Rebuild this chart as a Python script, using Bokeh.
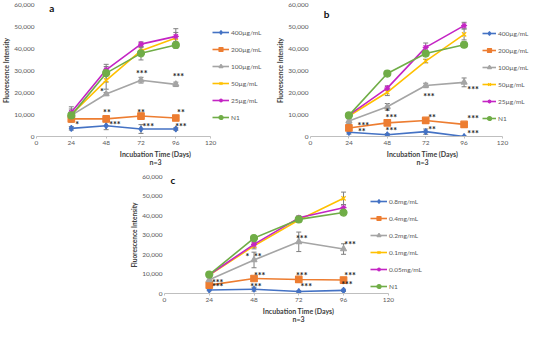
from bokeh.plotting import figure
from bokeh.models import (ColumnDataSource, Whisker, TeeHead, FixedTicker, NumeralTickFormatter,
                          Legend, LegendItem, Label, Range1d)
from bokeh.layouts import column, row
from bokeh.core.properties import value
from bokeh.embed import file_html
from bokeh.resources import INLINE

# ---------------- data ----------------
days = [24, 48, 72, 96]

labels_ab = ["400\u00b5g/mL", "200\u00b5g/mL", "100\u00b5g/mL", "50\u00b5g/mL", "25\u00b5g/mL", "N1"]
labels_c = ["0.8mg/mL", "0.4mg/mL", "0.2mg/mL", "0.1mg/mL", "0.05mg/mL", "N1"]

a_400 = [3700, 4900, 3400, 3400]
a_200 = [8000, 8000, 9300, 8400]
a_100 = [9600, 19300, 25600, 23700]
a_50 = [10000, 25500, 39000, 44800]
a_25 = [11000, 30300, 42000, 45500]
a_n1 = [9600, 28800, 37800, 41600]
a_err = [[800, 1800, 2000, 600], [500, 600, 800, 700], [800, 700, 1300, 1000],
         [3500, 4000, 1500, 2500], [1500, 1500, 1000, 3500], [1500, 4000, 3000, 1500]]

b_400 = [1900, 800, 2200, 0]
b_200 = [3900, 6200, 7300, 5500]
b_100 = [7000, 13500, 23200, 24600]
b_50 = [9300, 20100, 34300, 46400]
b_25 = [9700, 22000, 40500, 50400]
b_n1 = [9600, 28600, 37700, 41700]
b_err = [[800, 500, 1200, 300], [800, 1200, 1000, 800], [1000, 1500, 1000, 2000],
         [1000, 1500, 800, 2500], [1000, 1000, 2000, 1500], [800, 600, 800, 1200]]

c_08 = [1800, 2200, 1000, 1600]
c_04 = [4300, 7700, 7200, 6900]
c_02 = [7000, 17200, 26500, 22800]
c_01 = [9400, 24400, 37700, 48800]
c_005 = [9600, 25200, 38800, 44000]
c_n1 = [9700, 28400, 38000, 41500]
c_err = [[400, 1000, 400, 600], [1000, 800, 1200, 800], [1000, 4000, 5000, 2700],
         [1000, 1500, 1000, 3200], [1000, 1500, 1000, 1500], [800, 600, 800, 1000]]

a_star_x = [28, 54, 77, 99.5, 48.5, 72, 99.5, 45, 72.5, 97.8]
a_star_y = [5300, 5300, 4700, 4500, 10800, 10800, 10800, 20300, 28600, 27400]
a_star_t = ["*", "***", "***", "***", "**", "**", "**", "*", "***", "***"]

b_star_x = [32, 33, 48, 50.5, 50.5, 74, 76, 76, 101.6, 101.6, 101.6]
b_star_y = [2200, 5000, 11500, 8600, 2600, 18100, 8600, 3400, 21300, 8300, 1500]
b_star_t = ["**", "***", "*", "***", "***", "***", "**", "**", "***", "***", "***"]

c_star_x = [28.5, 28.5, 44.5, 50, 51, 49, 73.6, 73.6, 76, 99.5, 99.5, 97.8]
c_star_y = [5600, 3500, 19000, 19000, 9000, 3800, 28400, 9000, 3400, 25200, 9000, 4600]
c_star_t = ["***", "***", "*", "**", "***", "***", "***", "***", "***", "***", "***", "***"]

x_ticks = [0, 24, 48, 72, 96, 120]
y_ticks = [0, 10000, 20000, 30000, 40000, 50000, 60000]

# ---------------- style ----------------
colors = ["#4472C4", "#ED7D31", "#A5A5A5", "#FFC000", "#C425C4", "#70AD47"]
markers = ["diamond", "square", "triangle", "x", "asterisk", "circle"]
msizes = [6, 6.5, 6, 6, 6, 7]
FONT = "Lato"
TXT = "#595959"


def panel(series, errs, labels, sx, sy, st, tag, w, h, bl, br, bt, bb, x_end,
          legend_loc, leg_spacing, glyph_w, tag_xy):
    p = figure(width=w, height=h, output_backend="svg", toolbar_location=None,
               x_range=Range1d(0, x_end), y_range=Range1d(0, 60000),
               min_border_left=bl, min_border_right=br, min_border_top=bt, min_border_bottom=bb)
    p.outline_line_color = None
    p.grid.visible = False
    p.background_fill_color = "white"
    p.border_fill_color = "white"

    p.xaxis.ticker = FixedTicker(ticks=x_ticks)
    p.xaxis.bounds = (0, 120)
    p.yaxis.ticker = FixedTicker(ticks=y_ticks)
    p.yaxis.formatter = NumeralTickFormatter(format="0,0")
    for ax in (p.xaxis, p.yaxis):
        ax.major_label_text_font = FONT
        ax.major_label_text_font_size = "6.5px"
        ax.major_label_text_color = TXT
        ax.axis_label_text_font = FONT
        ax.axis_label_text_font_style = "bold"
        ax.axis_label_text_color = "#404040"
        ax.minor_tick_line_color = None
    p.xaxis.axis_line_color = "#BFBFBF"
    p.xaxis.major_tick_line_color = "#BFBFBF"
    p.xaxis.major_tick_in = 0
    p.xaxis.major_tick_out = 2
    p.xaxis.major_label_standoff = 2
    p.xaxis.axis_label = "Incubation Time (Days)\nn=3"
    p.xaxis.axis_label_text_font_size = "7px"
    p.xaxis.axis_label_text_align = "center"
    p.xaxis.axis_label_text_line_height = 1.0
    p.xaxis.axis_label_standoff = 2
    p.yaxis.axis_line_color = None
    p.yaxis.major_tick_line_color = None
    p.yaxis.major_tick_out = 0
    p.yaxis.major_label_standoff = 2
    p.yaxis.axis_label = "Fluorescence Intensity"
    p.yaxis.axis_label_text_font_size = "6.5px"
    p.yaxis.axis_label_standoff = 1

    items = []
    for i, ys in enumerate(series):
        src = ColumnDataSource(dict(x=days, y=ys,
                                    lo=[v - e for v, e in zip(ys, errs[i])],
                                    hi=[v + e for v, e in zip(ys, errs[i])]))
        wk = Whisker(source=src, base="x", upper="hi", lower="lo", line_color="#7F7F7F",
                     line_width=1,
                     upper_head=TeeHead(size=5, line_color="#7F7F7F", line_width=1),
                     lower_head=TeeHead(size=5, line_color="#7F7F7F", line_width=1))
        p.add_layout(wk)
        ln = p.line("x", "y", source=src, line_color=colors[i], line_width=1.6)
        mk = p.scatter("x", "y", source=src, marker=markers[i], size=msizes[i],
                       fill_color=colors[i], line_color=colors[i], line_width=1.2)
        items.append(LegendItem(label=labels[i], renderers=[ln, mk]))

    ssrc = ColumnDataSource(dict(x=sx, y=sy, t=st))
    p.text("x", "y", text="t", source=ssrc, text_font=value(FONT), text_font_size="9px",
           text_font_style="bold", text_color="#222222", text_align="center",
           text_baseline="middle")

    lg = Legend(items=items, location=legend_loc, border_line_color=None,
                background_fill_alpha=0, label_text_font=FONT, label_text_font_size="6.5px",
                label_text_color=TXT, glyph_width=glyph_w, glyph_height=10, label_height=10,
                label_standoff=2, spacing=leg_spacing, padding=0, margin=0)
    p.add_layout(lg)

    p.add_layout(Label(x=tag_xy[0], y=tag_xy[1], text=tag, text_font=FONT,
                       text_font_size="10px", text_font_style="bold", text_color="#111111",
                       text_align="center", text_baseline="middle"))
    return p


pa = panel([a_400, a_200, a_100, a_50, a_25, a_n1], a_err, labels_ab,
           a_star_x, a_star_y, a_star_t, "a", 274, 168, 31, 0, 4, 20, 164,
           (176, 14), 7, 17, (10.5, 58500))
pb = panel([b_400, b_200, b_100, b_50, b_25, b_n1], b_err, labels_ab,
           b_star_x, b_star_y, b_star_t, "b", 260, 168, 34, 0, 4, 20, 140,
           (172, 13), 7, 14, (10, 55500))
pc = panel([c_08, c_04, c_02, c_01, c_005, c_n1], c_err, labels_c,
           c_star_x, c_star_y, c_star_t, "c", 534, 157, 164, 102, 8, 20, 143.7,
           (206, 2), 7, 17, (4.5, 58000))

layout = column(row(pa, pb), pc)

open("out.html", "w").write(file_html(layout, INLINE))
